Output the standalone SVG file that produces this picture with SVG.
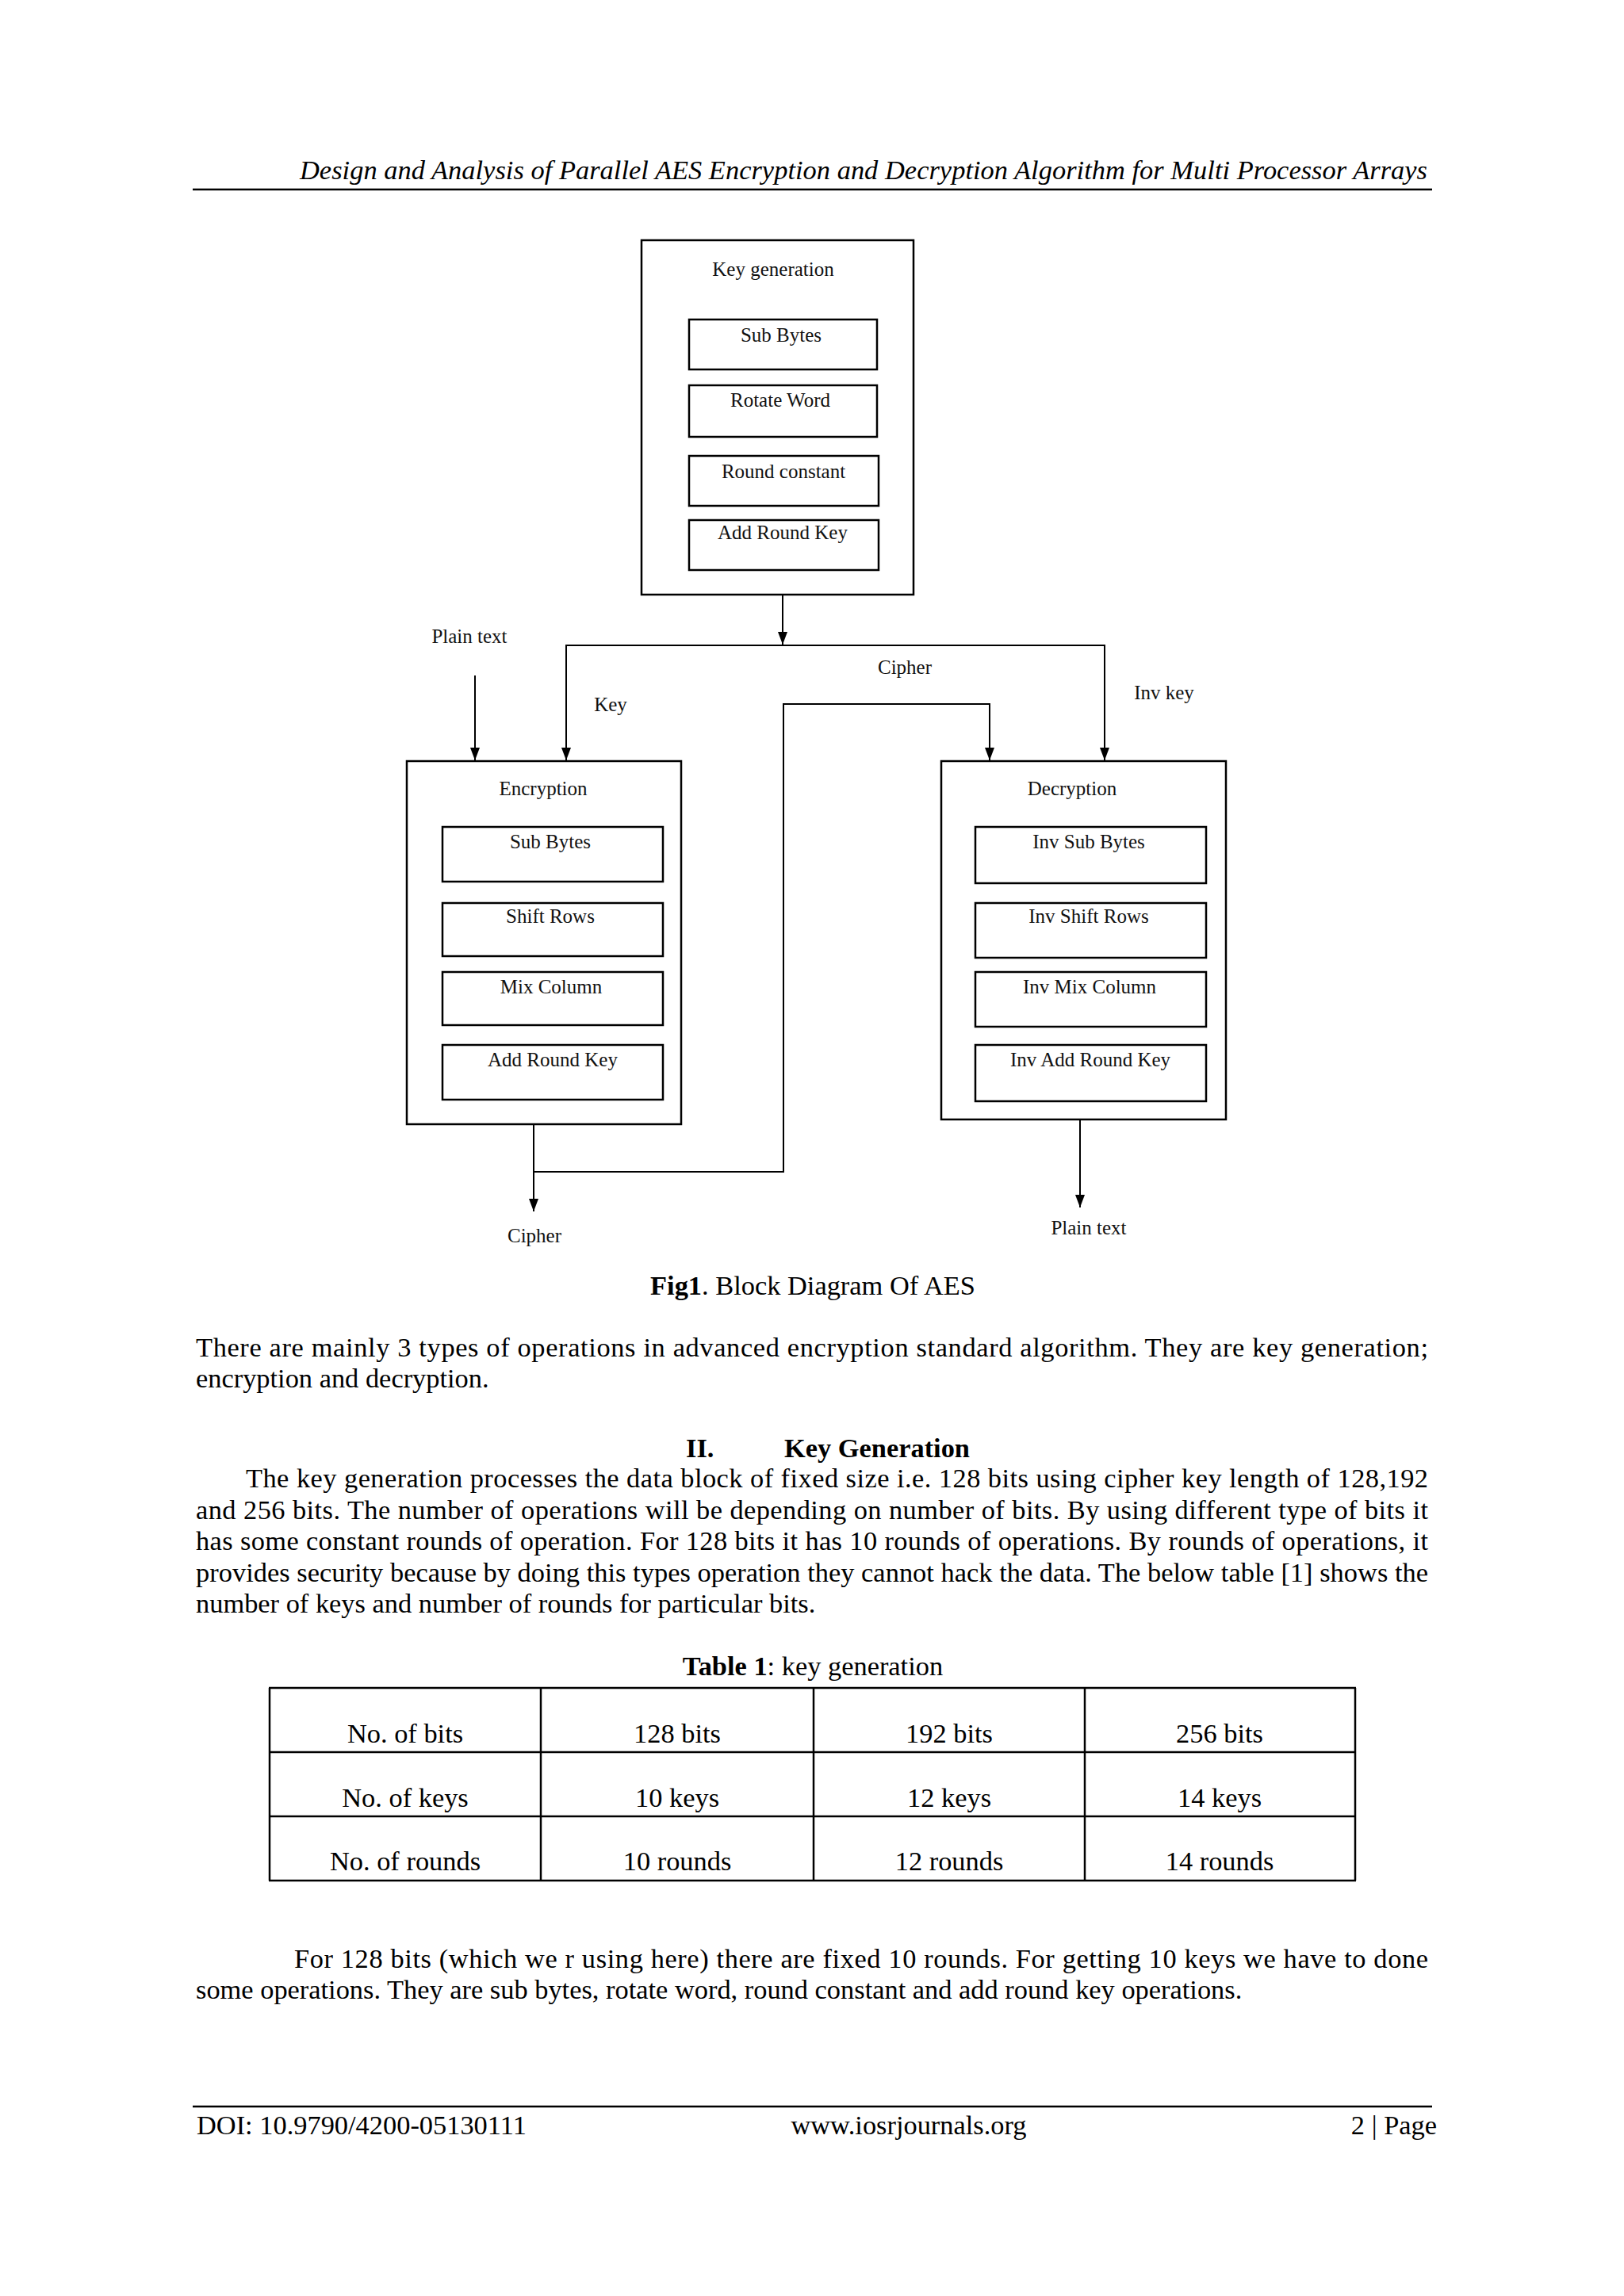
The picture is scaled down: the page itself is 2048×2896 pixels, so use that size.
<svg xmlns="http://www.w3.org/2000/svg" width="2048" height="2896" viewBox="0 0 2048 2896">
<defs>
<marker id="ah" viewBox="0 0 16 12" refX="16" refY="6" markerWidth="16" markerHeight="12" markerUnits="userSpaceOnUse" orient="auto">
<path d="M0,0 L16,6 L0,12 Z" fill="#000"/>
</marker>
<style>
.box{fill:#fff;stroke:#000;stroke-width:2.5}
.lbl{font-family:"Liberation Serif","Times New Roman",serif;font-size:25px;fill:#111;text-anchor:middle}
.ln{fill:none;stroke:#000;stroke-width:2}
.body{font-family:"Liberation Serif","Times New Roman",serif;font-size:34.4px;fill:#000}
.cell{font-family:"Liberation Serif","Times New Roman",serif;font-size:34.4px;fill:#000;text-anchor:middle}
.rule{stroke:#000;stroke-width:2.5}
.tl{stroke:#000;stroke-width:2.5}
</style>
</defs>
<rect width="2048" height="2896" fill="#fff"/>

<!-- page header -->
<text class="body" x="378" y="226" font-style="italic" textLength="1422">Design and Analysis of Parallel AES Encryption and Decryption Algorithm for Multi Processor Arrays</text>
<line class="rule" x1="243" y1="239" x2="1806" y2="239"/>

<!-- Key generation node -->
<g id="keygen">
<rect class="box" x="809" y="303" width="343" height="447"/>
<text class="lbl" x="975" y="348">Key generation</text>
<rect class="box" x="869" y="403" width="237" height="63"/>
<text class="lbl" x="985" y="431">Sub Bytes</text>
<rect class="box" x="869" y="486" width="237" height="65"/>
<text class="lbl" x="984" y="513">Rotate Word</text>
<rect class="box" x="869" y="575" width="239" height="63"/>
<text class="lbl" x="988" y="603">Round constant</text>
<rect class="box" x="869" y="656" width="239" height="63"/>
<text class="lbl" x="987" y="680">Add Round Key</text>
</g>

<!-- Encryption node -->
<g id="encryption">
<rect class="box" x="513" y="960" width="346" height="458"/>
<text class="lbl" x="685" y="1003">Encryption</text>
<rect class="box" x="558" y="1043" width="278" height="69"/>
<text class="lbl" x="694" y="1070">Sub Bytes</text>
<rect class="box" x="558" y="1139" width="278" height="67"/>
<text class="lbl" x="694" y="1164">Shift Rows</text>
<rect class="box" x="558" y="1226" width="278" height="67"/>
<text class="lbl" x="695" y="1253">Mix Column</text>
<rect class="box" x="558" y="1318" width="278" height="69"/>
<text class="lbl" x="697" y="1345">Add Round Key</text>
</g>

<!-- Decryption node -->
<g id="decryption">
<rect class="box" x="1187" y="960" width="359" height="452"/>
<text class="lbl" x="1352" y="1003">Decryption</text>
<rect class="box" x="1230" y="1043" width="291" height="71"/>
<text class="lbl" x="1373" y="1070">Inv Sub Bytes</text>
<rect class="box" x="1230" y="1139" width="291" height="69"/>
<text class="lbl" x="1373" y="1164">Inv Shift Rows</text>
<rect class="box" x="1230" y="1226" width="291" height="69"/>
<text class="lbl" x="1374" y="1253">Inv Mix Column</text>
<rect class="box" x="1230" y="1318" width="291" height="71"/>
<text class="lbl" x="1375" y="1345">Inv Add Round Key</text>
</g>

<!-- connectors -->
<g id="connectors">
<line class="ln" x1="987" y1="751" x2="987" y2="813" marker-end="url(#ah)"/>
<line class="ln" x1="713" y1="814" x2="1394" y2="814"/>
<line class="ln" x1="714" y1="814" x2="714" y2="959" marker-end="url(#ah)"/>
<line class="ln" x1="1393" y1="814" x2="1393" y2="959" marker-end="url(#ah)"/>
<line class="ln" x1="599" y1="852" x2="599" y2="959" marker-end="url(#ah)"/>
<line class="ln" x1="673" y1="1419" x2="673" y2="1528" marker-end="url(#ah)"/>
<polyline class="ln" points="673,1478 988,1478 988,888 1248,888 1248,959" marker-end="url(#ah)"/>
<line class="ln" x1="1362" y1="1413" x2="1362" y2="1523" marker-end="url(#ah)"/>
<text class="lbl" x="592" y="811">Plain text</text>
<text class="lbl" x="770" y="897">Key</text>
<text class="lbl" x="1141" y="850">Cipher</text>
<text class="lbl" x="1468" y="882">Inv key</text>
<text class="lbl" x="674" y="1567">Cipher</text>
<text class="lbl" x="1373" y="1557">Plain text</text>
</g>

<!-- caption and body text -->
<text class="body" x="1025" y="1633" text-anchor="middle"><tspan font-weight="bold">Fig1</tspan>. Block Diagram Of AES</text>
<text class="body" x="247" y="1711" textLength="1554">There are mainly 3 types of operations in advanced encryption standard algorithm. They are key generation;</text>
<text class="body" x="247" y="1750">encryption and decryption.</text>

<text class="body" x="865" y="1838" font-weight="bold" font-size="37">II.</text>
<text class="body" x="989" y="1838" font-weight="bold" font-size="37">Key Generation</text>

<text class="body" x="310" y="1876" textLength="1491">The key generation processes the data block of fixed size i.e. 128 bits using cipher key length of 128,192</text>
<text class="body" x="247" y="1916" textLength="1554">and 256 bits.  The number of operations will be depending on number of bits. By using different type of bits it</text>
<text class="body" x="247" y="1955" textLength="1554">has some constant rounds of operation. For 128 bits it has 10 rounds of operations. By rounds of operations, it</text>
<text class="body" x="247" y="1995" textLength="1554">provides security because by doing this types operation they cannot hack the data. The below table [1] shows the</text>
<text class="body" x="247" y="2034">number of keys and number of rounds for particular bits.</text>

<!-- table -->
<text class="body" x="1025" y="2113" text-anchor="middle"><tspan font-weight="bold">Table 1</tspan>: key generation</text>
<g id="table">
<line class="tl" x1="339" y1="2129" x2="1710" y2="2129"/>
<line class="tl" x1="339" y1="2210" x2="1710" y2="2210"/>
<line class="tl" x1="339" y1="2291" x2="1710" y2="2291"/>
<line class="tl" x1="339" y1="2372" x2="1710" y2="2372"/>
<line class="tl" x1="340" y1="2129" x2="340" y2="2372"/>
<line class="tl" x1="682" y1="2129" x2="682" y2="2372"/>
<line class="tl" x1="1026" y1="2129" x2="1026" y2="2372"/>
<line class="tl" x1="1368" y1="2129" x2="1368" y2="2372"/>
<line class="tl" x1="1709" y1="2129" x2="1709" y2="2372"/>
<text class="cell" x="511" y="2198" font-size="38">No. of bits</text>
<text class="cell" x="854" y="2198">128 bits</text>
<text class="cell" x="1197" y="2198">192 bits</text>
<text class="cell" x="1538" y="2198">256 bits</text>
<text class="cell" x="511" y="2279" font-size="38">No. of keys</text>
<text class="cell" x="854" y="2279">10 keys</text>
<text class="cell" x="1197" y="2279">12 keys</text>
<text class="cell" x="1538" y="2279">14 keys</text>
<text class="cell" x="511" y="2359" font-size="38">No. of rounds</text>
<text class="cell" x="854" y="2359">10 rounds</text>
<text class="cell" x="1197" y="2359">12 rounds</text>
<text class="cell" x="1538" y="2359">14 rounds</text>
</g>

<text class="body" x="371" y="2482" textLength="1430">For 128 bits (which we r using here) there are fixed 10 rounds. For getting 10 keys we have to done</text>
<text class="body" x="247" y="2521">some operations. They are sub bytes, rotate word, round constant and add round key operations.</text>

<!-- footer -->
<line class="rule" x1="243" y1="2657" x2="1806" y2="2657"/>
<text class="body" x="248" y="2692">DOI: 10.9790/4200-05130111</text>
<text class="body" x="1146" y="2692" text-anchor="middle">www.iosrjournals.org</text>
<text class="body" x="1812" y="2692" text-anchor="end">2 | Page</text>
</svg>
